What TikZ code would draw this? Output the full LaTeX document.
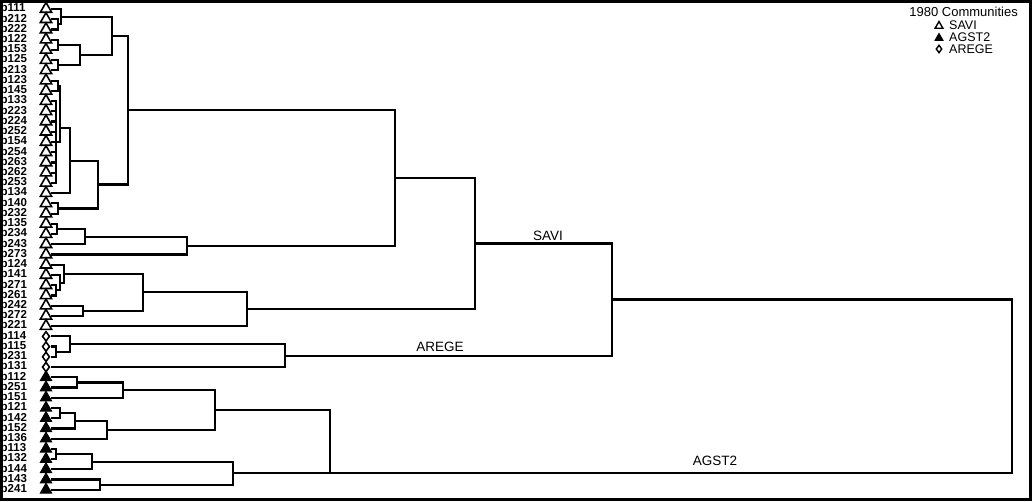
\documentclass[tikz,border=0pt]{standalone}
\usepackage{fontspec}
\setmainfont{Liberation Sans}
\usetikzlibrary{shapes.geometric}
\begin{document}
\begin{tikzpicture}[x=1pt,y=-1pt,
  br/.style={line width=2.2pt},
  lab/.style={anchor=west, font=\fontsize{11.5}{11}\selectfont\bfseries, inner sep=0pt},
  otri/.style={regular polygon, regular polygon sides=3, draw, line width=1.6pt, inner sep=0pt, minimum size=13pt, fill=white},
  ftri/.style={regular polygon, regular polygon sides=3, draw, fill=black, line width=1pt, inner sep=0pt, minimum size=13pt},
  odia/.style={diamond, draw, line width=1.6pt, inner sep=0pt, minimum width=7.5pt, minimum height=10pt, fill=white},
  clab/.style={font=\fontsize{13.5}{13.5}\selectfont, inner sep=1pt},
  leg/.style={anchor=west, font=\fontsize{12.5}{12.5}\selectfont, inner sep=0pt}]
\useasboundingbox (0,0) rectangle (1032,501);
\draw[line width=2.5pt] (1.5,1.5) rectangle (1030.5,499.5);
% leaves
\foreach \n [count=\i] in {p111,p212,p222,p122,p153,p125,p213,p123,p145,p133,p223,p224,p252,p154,p254,p263,p262,p253,p134,p140,p232,p135,p234,p243,p273,p124,p141,p271,p261,p242,p272,p221,p114,p115,p231,p131,p112,p251,p151,p121,p142,p152,p136,p113,p132,p144,p143,p241}{
  \pgfmathsetmacro\yy{9+(\i-1)*10.23}
  \node[lab] (t\i) at (0.5,\yy) {\n};
  \coordinate (l\i) at (51,\yy);
}
% merge points
\coordinate (a0) at (58,24.35);
\coordinate (a1) at (61,16.7);
\coordinate (a2) at (58,44.8);
\coordinate (a3) at (58,65.3);
\coordinate (a4) at (80,55.05);
\coordinate (a5) at (112,35.9);
\coordinate (b1) at (58,85.7);
\coordinate (b2) at (56,142.0);
\coordinate (b3) at (60,128);
\coordinate (b4) at (70,160.6);
\coordinate (b5) at (58,208.5);
\coordinate (b6) at (98,184.5);
\coordinate (b7) at (128,110.2);
\coordinate (c1) at (57,228.95);
\coordinate (c2) at (85,236.6);
\coordinate (c3) at (187,245.6);
\coordinate (c4) at (395,177.9);
\coordinate (d1) at (56,290.3);
\coordinate (d2) at (60,282.7);
\coordinate (d3) at (64,273.7);
\coordinate (d4) at (83,310.8);
\coordinate (d5) at (143,292.3);
\coordinate (d6) at (247,309.2);
\coordinate (d7) at (475,243.5);
\coordinate (e1) at (56,351.7);
\coordinate (e2) at (70,344.0);
\coordinate (e3) at (285,355.6);
\coordinate (f0) at (612,299.5);
\coordinate (g1) at (77,382.4);
\coordinate (g2) at (123,390.0);
\coordinate (g3) at (60,413.1);
\coordinate (g4) at (75,420.8);
\coordinate (g5) at (107,429.7);
\coordinate (g6) at (215,409.9);
\coordinate (h1) at (56,454.0);
\coordinate (h2) at (92,461.7);
\coordinate (h3) at (100,484.7);
\coordinate (h4) at (233,473.2);
\coordinate (h5) at (330,473.2);
\coordinate (root) at (1012,386);
% connectors child -| parent
\foreach \c/\p in {l2/a0,l3/a0,l1/a1,a0/a1,l4/a2,l5/a2,l6/a3,l7/a3,a2/a4,a3/a4,a1/a5,a4/a5,
  l8/b1,l9/b1,l10/b2,l11/b2,l12/b2,l13/b2,l14/b2,l15/b2,l16/b2,l17/b2,l18/b2,b1/b3,b2/b3,b3/b4,l19/b4,
  l20/b5,l21/b5,b4/b6,b5/b6,a5/b7,b6/b7,
  l22/c1,l23/c1,c1/c2,l24/c2,c2/c3,l25/c3,b7/c4,c3/c4,
  l28/d1,l29/d1,l27/d2,d1/d2,l26/d3,d2/d3,l30/d4,l31/d4,d3/d5,d4/d5,d5/d6,l32/d6,c4/d7,d6/d7,
  l34/e1,l35/e1,l33/e2,e1/e2,e2/e3,l36/e3,d7/f0,e3/f0,
  l37/g1,l38/g1,g1/g2,l39/g2,l40/g3,l41/g3,g3/g4,l42/g4,g4/g5,l43/g5,g2/g6,g5/g6,
  l44/h1,l45/h1,h1/h2,l46/h2,l47/h3,l48/h3,h2/h4,h3/h4,g6/h5,h4/h5,f0/root,h5/root}{
  \draw[br] (\c) -| (\p);
}
% symbols
\foreach \i in {1,...,32}{\node[otri] (s\i) at ([xshift=-5pt]l\i) {};}
\foreach \i in {33,...,36}{\node[odia] (s\i) at ([xshift=-5pt]l\i) {};}
\foreach \i in {37,...,48}{\node[ftri] (s\i) at ([xshift=-5pt]l\i) {};}
% cluster labels
\node[clab] (lsavi) at (548,236) {SAVI};
\node[clab] (larege) at (440,347) {AREGE};
\node[clab] (lagst) at (715,461) {AGST2};
% legend
\node[anchor=east, font=\fontsize{13}{13}\selectfont, inner sep=0pt] (ltitle) at (1018,12) {1980 Communities};
\node[otri, minimum size=9pt, line width=1.4pt] (k1) at (939,26) {};
\node[leg] (kt1) at (949,25) {SAVI};
\node[ftri, minimum size=9pt] (k2) at (939,38) {};
\node[leg] (kt2) at (949,37) {AGST2};
\node[odia, minimum width=6pt, minimum height=8pt, line width=1.4pt] (k3) at (939,49) {};
\node[leg] (kt3) at (949,49) {AREGE};
\end{tikzpicture}
\end{document}
